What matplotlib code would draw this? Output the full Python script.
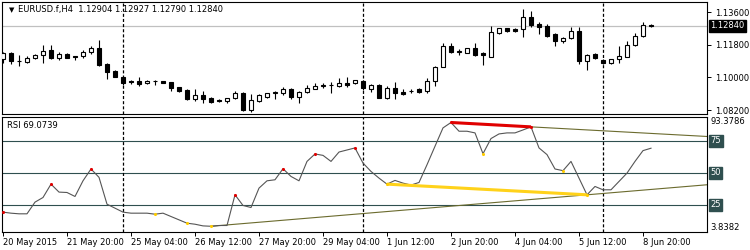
import matplotlib
matplotlib.use("Agg")
from matplotlib import pyplot as plt
from matplotlib.patches import Rectangle
from matplotlib import transforms
import numpy as np

# EURUSD.f H4 candles, 20 May 2015 - 9 Jun 2015
opens = [1.1101, 1.1134, 1.1090, 1.1087, 1.1109, 1.1123, 1.1151, 1.1107, 1.1129, 1.1115,
         1.1115, 1.1137, 1.1160, 1.1073, 1.1037, 1.1000, 1.0980, 1.0981, 1.0967, 1.0981,
         1.0978, 1.0976, 1.0945, 1.0930, 1.0882, 1.0901, 1.0884, 1.0875, 1.0871, 1.0884,
         1.0915, 1.0820, 1.0871, 1.0893, 1.0915, 1.0912, 1.0937, 1.0890, 1.0919, 1.0937,
         1.0954, 1.0956, 1.0952, 1.0967, 1.0967, 1.0980, 1.0937, 1.0956, 1.0888, 1.0940,
         1.0921, 1.0925, 1.0934, 1.0926, 1.0980, 1.1059, 1.1173, 1.1141, 1.1136, 1.1160,
         1.1132, 1.1114, 1.1246, 1.1270, 1.1266, 1.1265, 1.1331, 1.1294, 1.1283, 1.1239,
         1.1202, 1.1215, 1.1255, 1.1092, 1.1127, 1.1096, 1.1077, 1.1099, 1.1114, 1.1178,
         1.1228, 1.12904]
highs = [1.1140, 1.1140, 1.1123, 1.1120, 1.1131, 1.1178, 1.1178, 1.1140, 1.1134, 1.1118,
         1.1148, 1.1175, 1.1206, 1.1077, 1.1038, 1.1004, 1.0988, 1.1000, 1.0985, 1.0983,
         1.0978, 1.0976, 1.0948, 1.0934, 1.0934, 1.0925, 1.0890, 1.0881, 1.0884, 1.0925,
         1.0919, 1.0907, 1.0907, 1.0915, 1.0925, 1.0948, 1.0941, 1.0925, 1.0956, 1.0970,
         1.0967, 1.0976, 1.0995, 1.1000, 1.0988, 1.0985, 1.0962, 1.0962, 1.0952, 1.0976,
         1.0934, 1.0934, 1.0940, 1.0995, 1.1062, 1.1191, 1.1188, 1.1154, 1.1163, 1.1191,
         1.1141, 1.1283, 1.1273, 1.1273, 1.1270, 1.1375, 1.1366, 1.1307, 1.1294, 1.1246,
         1.1224, 1.1276, 1.1276, 1.1129, 1.1136, 1.1103, 1.1103, 1.1173, 1.1202, 1.1246,
         1.1307, 1.12927]
lows = [1.1079, 1.1073, 1.1065, 1.1079, 1.1101, 1.1079, 1.1099, 1.1096, 1.1104, 1.1093,
        1.1105, 1.1131, 1.1064, 1.0991, 1.1000, 1.0958, 1.0963, 1.0954, 1.0962, 1.0958,
        1.0967, 1.0925, 1.0919, 1.0875, 1.0871, 1.0860, 1.0857, 1.0864, 1.0857, 1.0879,
        1.0815, 1.0811, 1.0866, 1.0884, 1.0882, 1.0901, 1.0882, 1.0860, 1.0915, 1.0934,
        1.0940, 1.0912, 1.0945, 1.0948, 1.0963, 1.0930, 1.0921, 1.0884, 1.0879, 1.0879,
        1.0903, 1.0912, 1.0915, 1.0912, 1.0952, 1.1059, 1.1136, 1.1123, 1.1132, 1.1118,
        1.1068, 1.1110, 1.1237, 1.1248, 1.1248, 1.1224, 1.1279, 1.1237, 1.1221, 1.1174,
        1.1188, 1.1210, 1.1072, 1.1040, 1.1103, 1.1072, 1.1075, 1.1081, 1.1110, 1.1173,
        1.1224, 1.12790]
closes = [1.1134, 1.1090, 1.1090, 1.1109, 1.1123, 1.1145, 1.1107, 1.1129, 1.1107, 1.1112,
          1.1137, 1.1164, 1.1068, 1.1032, 1.1004, 1.0970, 1.0972, 1.0963, 1.0980, 1.0981,
          1.0970, 1.0940, 1.0923, 1.0879, 1.0901, 1.0882, 1.0866, 1.0868, 1.0884, 1.0915,
          1.0820, 1.0875, 1.0903, 1.0912, 1.0919, 1.0937, 1.0893, 1.0919, 1.0941, 1.0954,
          1.0956, 1.0956, 1.0967, 1.0958, 1.0985, 1.0940, 1.0956, 1.0888, 1.0940, 1.0912,
          1.0908, 1.0925, 1.0919, 1.0980, 1.1059, 1.1173, 1.1141, 1.1143, 1.1160, 1.1123,
          1.1123, 1.1248, 1.1270, 1.1257, 1.1257, 1.1331, 1.1288, 1.1279, 1.1229, 1.1202,
          1.1215, 1.1255, 1.1092, 1.1123, 1.1108, 1.1077, 1.1101, 1.1118, 1.1178, 1.1228,
          1.1288, 1.12840]

rsi = [19.3, 18.5, 18.0, 18.0, 27.1, 30.7, 41.1, 34.9, 34.6, 31.5,
       43.7, 52.9, 46.4, 25.5, 22.4, 19.3, 18.5, 18.5, 18.5, 17.7,
       18.5, 15.9, 13.3, 10.7, 9.9, 8.6, 8.3, 8.9, 8.9, 32.8,
       24.5, 22.9, 38.0, 43.7, 44.5, 53.1, 47.1, 43.7, 58.8, 64.6,
       63.5, 58.8, 66.1, 67.7, 69.3, 57.5, 51.0, 45.8, 41.1, 44.0,
       41.9, 40.4, 42.4, 56.2, 70.6, 84.9, 89.1, 82.3, 82.3, 81.0,
       64.8, 76.6, 80.2, 81.0, 81.0, 83.3, 85.7, 69.3, 64.1, 52.9,
       51.6, 58.8, 45.8, 32.8, 39.3, 36.7, 36.7, 43.2, 49.7, 58.8,
       67.2, 69.0739]

peaks = [0, 6, 11, 29, 35, 39, 44, 56, 66]
troughs = [19, 23, 26, 48, 60, 70, 73]
bear_div = [56, 66]      # red line
bull_div = [48, 73]      # yellow line
trend_down = [56, 66]    # olive, extended to the right edge
trend_up = [26, 73]

tick_bars = [0, 8, 16, 24, 32, 40, 48, 56, 64, 72, 80]
tick_labels = ["20 May 2015", "21 May 20:00", "25 May 04:00", "26 May 12:00", "27 May 20:00",
               "29 May 04:00", "1 Jun 12:00", "2 Jun 20:00", "4 Jun 04:00", "5 Jun 12:00",
               "8 Jun 20:00"]
separators = [15, 45, 75]
price_ticks = [1.082, 1.100, 1.118, 1.136]
rsi_levels = [25, 50, 75]
rsi_min, rsi_max = 3.8382, 93.3786
title = "EURUSD.f,H4  1.12904 1.12927 1.12790 1.12840"

plt.rcParams['font.family'] = ['DejaVu Sans']
plt.rcParams['lines.scale_dashes'] = False
FS = 6

fig = plt.figure(figsize=(7.5, 2.5), dpi=100)
fig.patch.set_facecolor('white')
ax = fig.add_axes([2/750, 1 - 114/250, 705/750, 112/250])
ax2 = fig.add_axes([2/750, 1 - 232/250, 705/750, 115/250])
XMIN, XMAX = -0.125, 88.0

# ---- price panel
n = len(closes)
for i in range(n):
    o, h, l, c = opens[i], highs[i], lows[i], closes[i]
    ax.plot([i, i], [l, h], color='black', lw=0.8, zorder=2, solid_capstyle='butt')
    up = c >= o
    ax.add_patch(Rectangle((i - 0.3, min(o, c)), 0.6, abs(c - o),
                           facecolor='white' if up else 'black',
                           edgecolor='black', lw=0.8, zorder=3))
ax.axhline(closes[-1], color='#c0c0c0', lw=0.9, zorder=1)
ax.set_xlim(XMIN, XMAX)
ax.set_ylim(1.07980, 1.14151)
ax.yaxis.tick_right()
ax.set_yticks(price_ticks)
ax.set_yticklabels([f"{p:.5f}" for p in price_ticks])
ax.tick_params(axis='y', labelsize=FS, length=3, width=0.7, pad=3, colors='black')
ax.set_xticks([])
ax.text(7/705, 0.929, "\u25bc", transform=ax.transAxes, fontsize=5, va='center', ha='left')
ax.text(16/705, 0.929, title, transform=ax.transAxes, fontsize=FS, va='center', ha='left')
trans = transforms.blended_transform_factory(ax.transAxes, ax.transData)
ax.text(1.005, closes[-1], f"{closes[-1]:.5f}", transform=trans, fontsize=FS, color='white',
        va='center', ha='left', bbox=dict(facecolor='black', edgecolor='black', pad=1.2))

# ---- RSI panel
xs = np.arange(n)
for lv in rsi_levels:
    ax2.axhline(lv, color='#2f4f4f', lw=0.8, zorder=1)
ax2.plot(xs, rsi, color='#555555', lw=0.8, zorder=3)


def extend(b, vals, x_end):
    x0, x1 = b
    y0, y1 = vals[x0], vals[x1]
    k = (y1 - y0) / (x1 - x0)
    return [x0, x_end], [y0, y0 + k * (x_end - x0)]


for tl in (trend_down, trend_up):
    tx, ty = extend(tl, rsi, XMAX)
    ax2.plot(tx, ty, color='#6b6b2e', lw=0.8, zorder=2)
ax2.plot(bear_div, [rsi[b] for b in bear_div], color='#e00000', lw=2.2, zorder=4,
         solid_capstyle='butt')
ax2.plot(bull_div, [rsi[b] for b in bull_div], color='#ffd21a', lw=2.2, zorder=4,
         solid_capstyle='butt')
ax2.scatter(peaks, [rsi[b] for b in peaks], s=5, color='#e00000', zorder=5, linewidths=0)
ax2.scatter(troughs, [rsi[b] for b in troughs], s=5, color='#ffcc00', zorder=5, linewidths=0)
ax2.set_xlim(XMIN, XMAX)
ax2.set_ylim(rsi_min, rsi_max)
ax2.set_yticks([])
ax2.set_xticks(tick_bars)
ax2.set_xticklabels(tick_labels, ha='left')
ax2.tick_params(axis='x', labelsize=FS, length=3, width=0.7, pad=1.5, colors='black')
ax2.text(5/705, 0.924, "RSI 69.0739", transform=ax2.transAxes, fontsize=FS, va='center')
trans2 = transforms.blended_transform_factory(ax2.transAxes, ax2.transData)
for lv in rsi_levels:
    ax2.text(1.005, lv, str(lv), transform=trans2, fontsize=FS, color='white', va='center',
             ha='left', bbox=dict(facecolor='#2f4f4f', edgecolor='#2f4f4f', pad=1.0))
ax2.text(1.005, rsi_max, f"{rsi_max:.4f}", transform=trans2, fontsize=FS, va='top', ha='left')
ax2.text(1.005, rsi_min, f"{rsi_min:.4f}", transform=trans2, fontsize=FS, va='bottom', ha='left')

for a in (ax, ax2):
    for b in separators:
        a.axvline(b, color='black', lw=0.9, ls=(0, (2.2, 1.5)), zorder=1)
    for s in a.spines.values():
        s.set_linewidth(0.8)

fig.savefig("out.png", dpi=100, facecolor='white')
